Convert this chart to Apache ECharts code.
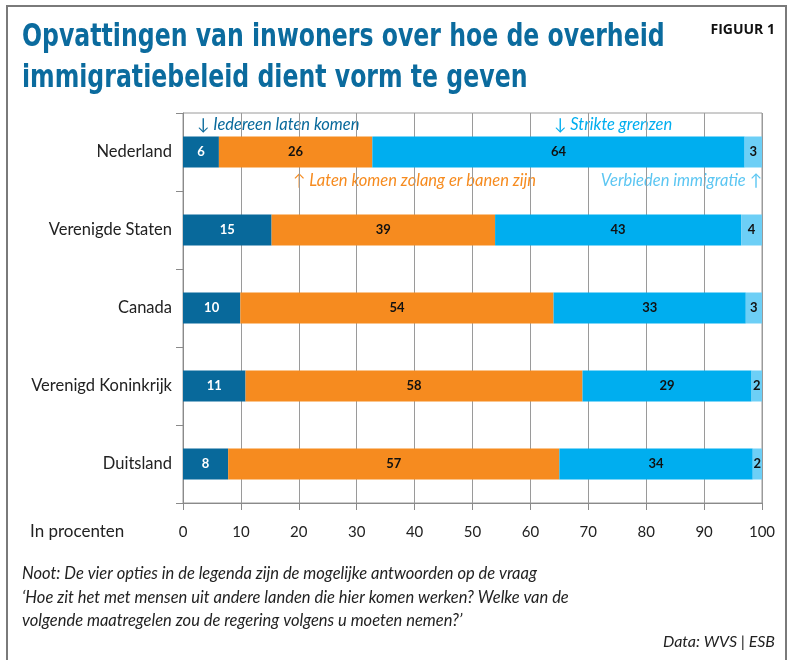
<!DOCTYPE html>
<html>
<head>
<meta charset="utf-8">
<script src="https://cdn.jsdelivr.net/npm/echarts@6/dist/echarts.min.js"></script>
<style>
  html, body { margin: 0; padding: 0; background: #fff; }
  #chart { width: 793px; height: 660px; }
</style>
</head>
<body>
<div id="chart"></div>
<script>
// landen (van boven naar beneden)
const landen = ['Nederland', 'Verenigde Staten', 'Canada', 'Verenigd Koninkrijk', 'Duitsland'];

const iedereen = [6.2, 15.3, 9.9, 10.8, 7.8];
const banen = [26.5, 38.6, 54.1, 58.2, 57.2];
const strikt = [64.3, 42.5, 33.2, 29.2, 33.4];
const verbieden = [3.0, 3.6, 2.8, 1.8, 1.6];

// afgedrukte (afgeronde) waarden in de balken
const lblIedereen = [6, 15, 10, 11, 8];
const lblBanen = [26, 39, 54, 58, 57];
const lblStrikt = [64, 43, 33, 29, 34];
const lblVerbieden = [3, 4, 3, 2, 2];

const kleuren = ['#08699b', '#f68b1f', '#00aeef', '#6dcff6'];
const fontSans = 'Lato, "Open Sans", sans-serif';

const chart = echarts.init(document.getElementById('chart'));

function reeks(naam, data, labels, kleur, labelKleur) {
    return {
        name: naam,
        type: 'bar',
        stack: 'totaal',
        barWidth: 31,
        data: data,
        itemStyle: { color: kleur },
        label: {
            show: true,
            position: 'inside',
            color: labelKleur,
            fontFamily: fontSans,
            fontWeight: 'bold',
            fontSize: 13,
            formatter: p => labels[p.dataIndex]
        }
    };
}

const option = {
    backgroundColor: '#fff',
    animation: false,
    grid: {
        left: 183, right: 31, top: 113, height: 390,
        show: true, borderColor: '#9a9a9a', borderWidth: 1
    },
    xAxis: {
        type: 'value', min: 0, max: 100, interval: 10,
        axisLine: { show: true, lineStyle: { color: '#8a8a8a', width: 1 } },
        axisTick: { show: true, length: 7, lineStyle: { color: '#8a8a8a' } },
        splitLine: { show: true, lineStyle: { color: '#9a9a9a', width: 1 } },
        axisLabel: { color: '#222', fontFamily: fontSans, fontSize: 15, margin: 22 }
    },
    yAxis: {
        type: 'category', inverse: true, data: landen,
        axisLine: { show: true, lineStyle: { color: '#8a8a8a' } },
        axisTick: { show: true, length: 7, lineStyle: { color: '#8a8a8a' } },
        axisLabel: { color: '#222', fontFamily: fontSans, fontSize: 16.5, margin: 11 }
    },
    series: [
        reeks('Iedereen laten komen', iedereen, lblIedereen, kleuren[0], '#fff'),
        reeks('Laten komen zolang er banen zijn', banen, lblBanen, kleuren[1], '#111'),
        reeks('Strikte grenzen', strikt, lblStrikt, kleuren[2], '#111'),
        reeks('Verbieden immigratie', verbieden, lblVerbieden, kleuren[3], '#111')
    ],
    graphic: [
        // kader
        { type: 'rect', shape: { x: 7, y: 6, width: 779, height: 700 },
          style: { fill: 'none', stroke: '#7a7a7a', lineWidth: 2 }, silent: true },
        // titel (smal gezet)
        { type: 'text', x: 22, y: 17, scaleX: 0.82, originX: 0, originY: 0,
          style: { text: 'Opvattingen van inwoners over hoe de overheid\nimmigratiebeleid dient vorm te geven',
                   fill: '#0b6b9e', font: 'bold 32px "DejaVu Sans Condensed", "DejaVu Sans", sans-serif',
                   lineHeight: 41 } },
        { type: 'text', right: 18, top: 23,
          style: { text: 'FIGUUR 1', fill: '#111', font: 'bold 14px "Open Sans", sans-serif' } },
        // legenda-annotaties
        { type: 'text', left: 197, top: 116,
          style: { text: '↓ Iedereen laten komen', fill: kleuren[0], font: 'italic 16.5px Lato, sans-serif' } },
        { type: 'text', left: 554, top: 116,
          style: { text: '↓ Strikte grenzen', fill: kleuren[2], font: 'italic 16.5px Lato, sans-serif' } },
        { type: 'text', left: 293, top: 172,
          style: { text: '↑ Laten komen zolang er banen zijn', fill: kleuren[1], font: 'italic 16.5px Lato, sans-serif' } },
        { type: 'text', right: 31, top: 172,
          style: { text: 'Verbieden immigratie ↑', fill: '#5cc6f2', font: 'italic 16.5px Lato, sans-serif' } },
        // aseenheid
        { type: 'text', left: 30, top: 523,
          style: { text: 'In procenten', fill: '#222', font: '17px Lato, sans-serif' } },
        // noot
        { type: 'text', left: 22, top: 562,
          style: { text: 'Noot: De vier opties in de legenda zijn de mogelijke antwoorden op de vraag\n‘Hoe zit het met mensen uit andere landen die hier komen werken? Welke van de\nvolgende maatregelen zou de regering volgens u moeten nemen?’',
                   fill: '#222', font: 'italic 16.5px Lato, sans-serif', lineHeight: 23.5 } },
        { type: 'text', right: 18, top: 634,
          style: { text: 'Data: WVS | ESB', fill: '#222', font: 'italic 16px Lato, sans-serif' } }
    ]
};

chart.setOption(option);
window.addEventListener('resize', () => chart.resize());
</script>
</body>
</html>
